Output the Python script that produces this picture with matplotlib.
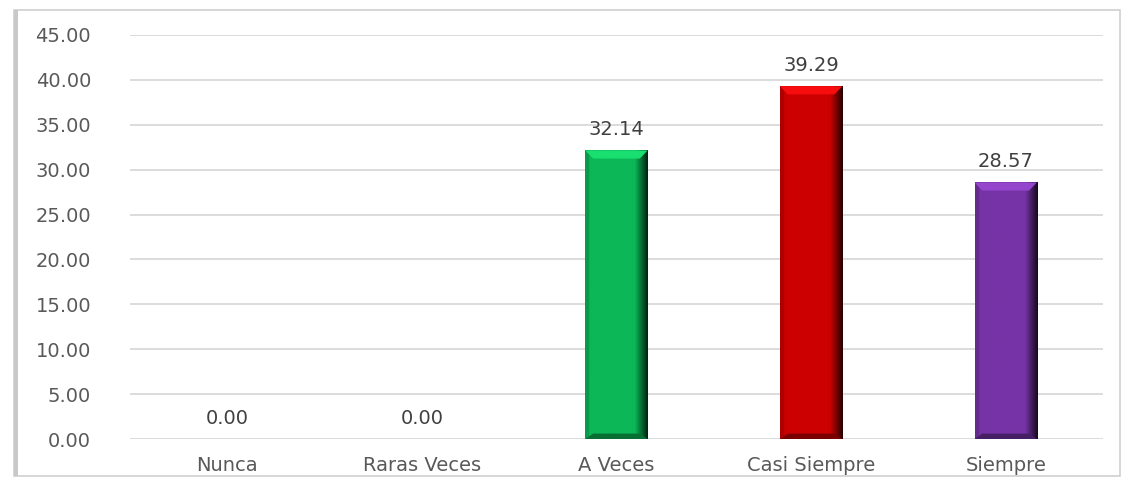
import matplotlib
matplotlib.use("Agg")
import matplotlib.pyplot as plt
import numpy as np
from matplotlib.patches import Rectangle, Polygon
from matplotlib.colors import to_rgb

plt.rcParams["font.family"] = ["DejaVu Sans"]

categorias = ["Nunca", "Raras Veces", "A Veces", "Casi Siempre", "Siempre"]
valores = [0.00, 0.00, 32.14, 39.29, 28.57]
colores = ["#0BB757", "#0BB757", "#0BB757", "#CC0000", "#7633A6"]

fig = plt.figure(figsize=(11.27, 4.86), dpi=100)
ax = fig.add_axes([0.1153, 0.0967, 0.8634, 0.8313])

# marco del grafico
fig.patches.append(Rectangle((0.012, 0.02), 0.982, 0.96, transform=fig.transFigure,
                             fill=False, edgecolor="#d0d0d0", linewidth=1.2))
fig.patches.append(Rectangle((0.012, 0.02), 0.004, 0.96, transform=fig.transFigure,
                             facecolor="#c8c8c8", edgecolor="none"))

x = np.arange(len(categorias))
ancho = 0.32


def sombreado(c, n=60):
    base = np.array(to_rgb(c))
    t = np.linspace(0, 1, n)
    f = np.ones(n)
    f[t < 0.06] = 0.85
    f = np.where(t > 0.8, 1 - (t - 0.8) / 0.2 * 0.8, f)
    return np.clip(base[None, :] * f[:, None], 0, 1)[None, :, :]


for xi, v, c in zip(x, valores, colores):
    if v <= 0:
        continue
    ax.bar(xi, v, width=ancho, color=c, zorder=2)
    ax.imshow(sombreado(c), extent=(xi - ancho / 2, xi + ancho / 2, 0, v),
              aspect="auto", zorder=3, interpolation="bilinear")
    # bisel superior
    claro = np.clip(np.array(to_rgb(c)) * 1.15 + 0.05, 0, 1)
    h = 0.9
    ax.add_patch(Polygon([(xi - ancho / 2, v), (xi + ancho / 2, v),
                          (xi + ancho / 2 - 0.04, v - h), (xi - ancho / 2 + 0.04, v - h)],
                         closed=True, facecolor=claro, edgecolor="none", zorder=4))
    oscuro = np.array(to_rgb(c)) * 0.6
    ax.add_patch(Polygon([(xi - ancho / 2, 0), (xi + ancho / 2, 0),
                          (xi + ancho / 2 - 0.04, 0.6), (xi - ancho / 2 + 0.04, 0.6)],
                         closed=True, facecolor=oscuro, edgecolor="none", zorder=4))

for xi, v in zip(x, valores):
    ax.annotate(f"{v:.2f}", (xi, v), xytext=(0, 8), textcoords="offset points",
                ha="center", va="bottom", fontsize=14, color="#404040")

ax.set_xlim(-0.5, len(categorias) - 0.5)
ax.set_ylim(0, 45)
ax.set_yticks(np.arange(0, 46, 5))
ax.set_yticklabels([f"{t:.2f}" for t in np.arange(0, 46, 5)])
ax.set_xticks(x)
ax.set_xticklabels(categorias)
ax.tick_params(axis="both", length=0, labelsize=14, labelcolor="#595959")
ax.tick_params(axis="y", pad=28)
ax.tick_params(axis="x", pad=12)
ax.grid(axis="y", color="#d9d9d9", linewidth=1.3, zorder=0)
ax.set_axisbelow(True)
for s in ax.spines.values():
    s.set_visible(False)

fig.savefig("out.png", dpi=100)
